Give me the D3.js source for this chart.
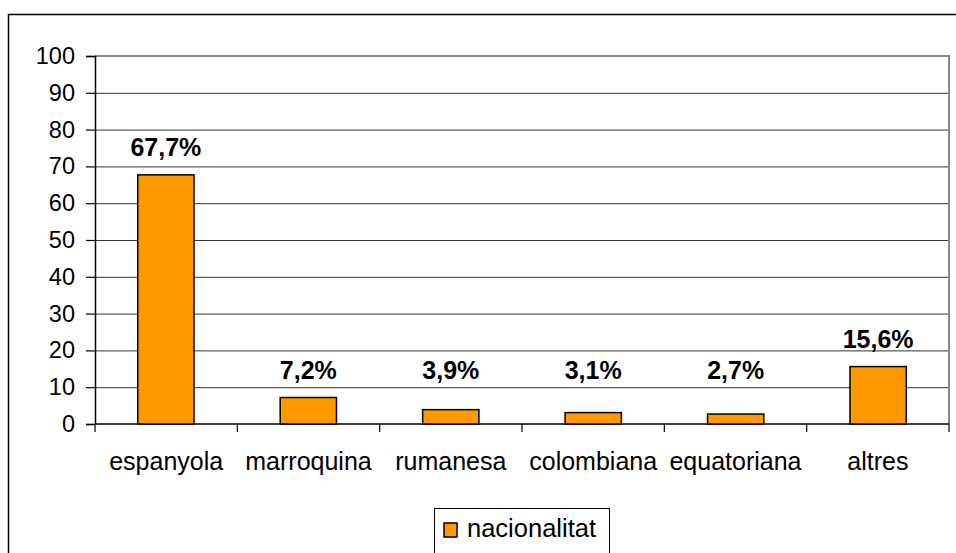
<!DOCTYPE html>
<html><head><meta charset="utf-8">
<script src="https://cdn.jsdelivr.net/npm/d3@7"></script>
<style>body{margin:0;background:#fff}svg{display:block}</style>
</head><body>
<svg id="c" width="956" height="553"></svg>
<script>
const categories = ["espanyola","marroquina","rumanesa","colombiana","equatoriana","altres"];
const values = [67.7, 7.2, 3.9, 3.1, 2.7, 15.6];
const valueLabels = ["67,7%","7,2%","3,9%","3,1%","2,7%","15,6%"];
const yTicks = [0,10,20,30,40,50,60,70,80,90,100];
const seriesName = "nacionalitat";

const svg = d3.select("#c");
const font = "'Liberation Sans', Arial, sans-serif";
const L = 95, R = 949, T = 56, B = 424;

// outer chart border
svg.append("rect").attr("x",8.5).attr("y",14.5).attr("width",960).attr("height",600)
  .attr("fill","none").attr("stroke","#000").attr("stroke-width",1.5);

const x = d3.scaleBand().domain(categories).range([L,R]).paddingInner(0.605).paddingOuter(0.3);
const xb = d3.scaleBand().domain(categories).range([L,R]);
const y = d3.scaleLinear().domain([0,100]).range([B,T]);

// gridlines
svg.append("g").selectAll("line").data(yTicks.filter(d=>d>0 && d<100)).join("line")
  .attr("x1",L).attr("x2",R).attr("y1",d=>y(d)+0.5).attr("y2",d=>y(d)+0.5)
  .attr("stroke","#333").attr("stroke-width",1);

// plot area frame (top & right gray)
svg.append("path").attr("d",`M${L},${T} H${R} V${B}`)
  .attr("fill","none").attr("stroke","#888").attr("stroke-width",2);

// y axis
const ya = d3.axisLeft(y).tickValues(yTicks).tickSize(9).tickPadding(11);
const gy = svg.append("g").attr("transform",`translate(${L},0)`).call(ya);
gy.select(".domain").attr("stroke","#000").attr("stroke-width",1.5);
gy.selectAll(".tick line").attr("stroke","#000").attr("stroke-width",1.2);
gy.selectAll("text").attr("font-family",font).attr("font-size",23.5).attr("fill","#000");

// x axis with boundary ticks
const gx = svg.append("g").attr("transform",`translate(0,${B})`);
gx.append("line").attr("x1",L).attr("x2",R).attr("y1",0).attr("y2",0).attr("stroke","#000").attr("stroke-width",1.5);
const bounds = categories.map(c=>xb(c)).concat([R]);
gx.selectAll("line.b").data(bounds).join("line").attr("class","b")
  .attr("x1",d=>d).attr("x2",d=>d).attr("y1",0).attr("y2",8).attr("stroke","#000").attr("stroke-width",1.2);
gx.selectAll("text").data(categories).join("text")
  .attr("x",d=>xb(d)+xb.bandwidth()/2).attr("y",46)
  .attr("text-anchor","middle").attr("font-family",font).attr("font-size",25).attr("fill","#000")
  .text(d=>d);

// bars
svg.append("g").selectAll("rect").data(values).join("rect")
  .attr("x",(d,i)=>x(categories[i])).attr("width",x.bandwidth())
  .attr("y",d=>y(d)).attr("height",d=>y(0)-y(d))
  .attr("fill","#FF9900").attr("stroke","#000").attr("stroke-width",1.5);

// value labels
svg.append("g").selectAll("text").data(values).join("text")
  .attr("x",(d,i)=>x(categories[i])+x.bandwidth()/2).attr("y",d=>Math.min(y(d)-19, 379))
  .attr("text-anchor","middle").attr("font-family",font).attr("font-size",25).attr("font-weight","bold")
  .text((d,i)=>valueLabels[i]);

// legend
const lg = svg.append("g");
lg.append("rect").attr("x",434.5).attr("y",508.5).attr("width",175).attr("height",60)
  .attr("fill","#fff").attr("stroke","#000").attr("stroke-width",1);
lg.append("rect").attr("x",444).attr("y",523).attr("width",13).attr("height",14)
  .attr("fill","#FF9900").attr("stroke","#000").attr("stroke-width",1.5);
lg.append("text").attr("x",467).attr("y",537).attr("font-family",font).attr("font-size",25.5).text(seriesName);
</script>
</body></html>
